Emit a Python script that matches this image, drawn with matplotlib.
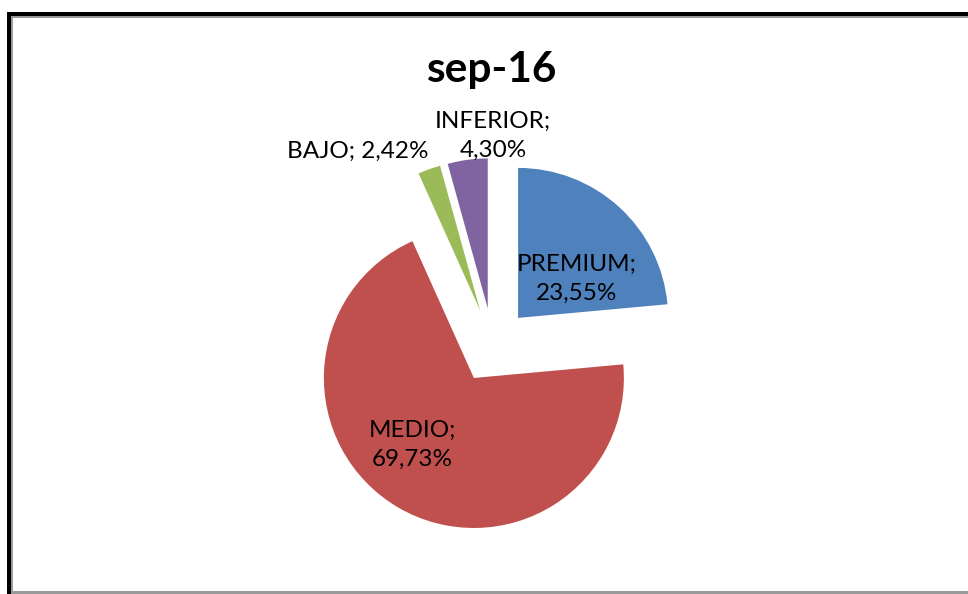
import matplotlib
matplotlib.use("Agg")
import matplotlib.pyplot as plt
from matplotlib.lines import Line2D
import numpy as np

title = "sep-16"
categories = ["PREMIUM", "MEDIO", "BAJO", "INFERIOR"]
values = [23.55, 69.73, 2.42, 4.30]
colors = ["#4F81BD", "#C0504D", "#9BBB59", "#8064A2"]

plt.rcParams['font.family'] = ['Lato', 'DejaVu Sans']

W, H = 968, 594
fig = plt.figure(figsize=(W / 100, H / 100), dpi=100)
ax = fig.add_axes([0, 0, 1, 1])

cx, cy, R = 492.8, H - 345.6, 150
expl = 37.5
wedges, _ = ax.pie(values, colors=colors, startangle=90, counterclock=False,
                   center=(cx, cy), radius=R, explode=[expl] * len(values),
                   frame=True)
ax.set_xlim(0, W)
ax.set_ylim(0, H)
ax.set_aspect('equal')
ax.axis('off')

def fmt(v):
    return f"{v:.2f}".replace(".", ",") + "%"

# label placement (pixel coords, y down)
label_pos = {
    "PREMIUM": (577, 279, "{c};\n{v}"),
    "MEDIO": (412, 445, "{c};\n{v}"),
    "BAJO": (358, 151, "{c}; {v}"),
    "INFERIOR": (493, 136, "{c};\n{v}"),
}
for c, v in zip(categories, values):
    x, y, tpl = label_pos[c]
    ax.text(x, H - y, tpl.format(c=c, v=fmt(v)), ha='center', va='center',
            fontsize=17.5, color='black', linespacing=1.45)

ax.text(491, H - 70, title, ha='center', va='center', fontsize=30.5,
        fontweight='bold', color='black')

# frame lines (figure pixel coords)
def hline(y, x0, x1, color, lw):
    fig.add_artist(Line2D([x0 / W, x1 / W], [1 - y / H, 1 - y / H],
                          transform=fig.transFigure, color=color, lw=lw,
                          solid_capstyle='butt'))

def vline(x, y0, y1, color, lw):
    fig.add_artist(Line2D([x / W, x / W], [1 - y0 / H, 1 - y1 / H],
                          transform=fig.transFigure, color=color, lw=lw,
                          solid_capstyle='butt'))

px = 72 / 100
vline(12, 16, H, '#9A9A9A', 2 * px)
hline(17, 11, W, '#9A9A9A', 2 * px)
hline(591.5, 11, W, '#9A9A9A', 3 * px)
vline(9, 12, H, 'black', 4 * px)
hline(14, 7, W, 'black', 4 * px)

fig.savefig("out.png", dpi=100)
